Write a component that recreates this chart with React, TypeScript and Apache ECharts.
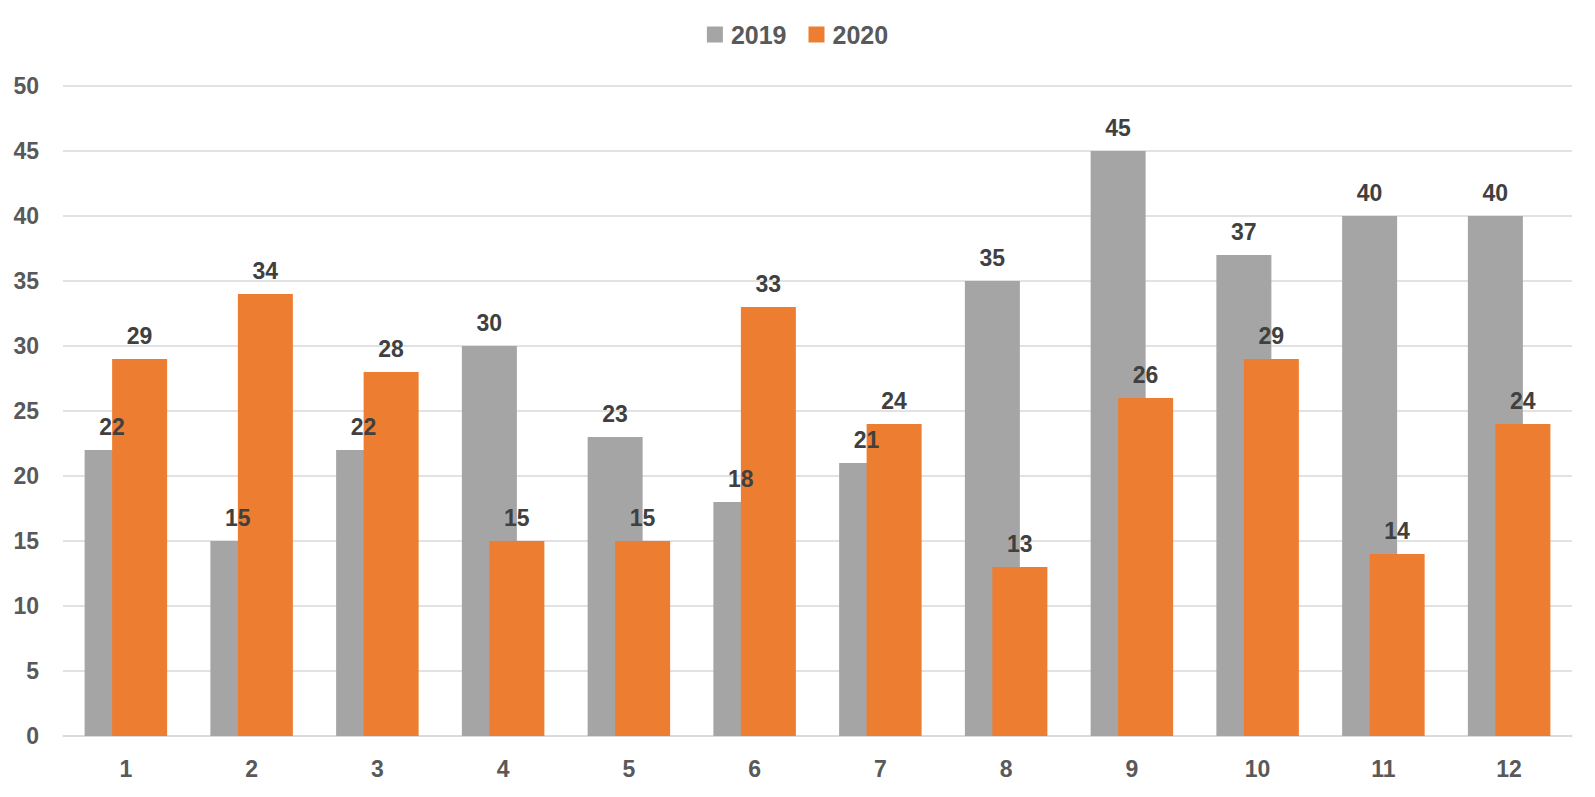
import React, { useEffect, useRef } from "react";
import * as echarts from "echarts";

const categories = ["1", "2", "3", "4", "5", "6", "7", "8", "9", "10", "11", "12"];
const values2019 = [22, 15, 22, 30, 23, 18, 21, 35, 45, 37, 40, 40];
const values2020 = [29, 34, 28, 15, 15, 33, 24, 13, 26, 29, 14, 24];
const seriesNames = ["2019", "2020"];

const FONT = "'Liberation Sans', Arial, sans-serif";

export default function App() {
  const ref = useRef<HTMLDivElement>(null);
  useEffect(() => {
    if (!ref.current) return;
    const chart = echarts.init(ref.current, null, { renderer: "svg" });
    const labelStyle = {
      show: true,
      position: "top" as const,
      distance: 12,
      color: "#404040",
      fontSize: 23,
      fontWeight: "bold" as const,
      fontFamily: FONT,
    };
    chart.setOption({
      animation: false,
      backgroundColor: "#ffffff",
      legend: {
        top: 17,
        left: "center",
        icon: "rect",
        itemWidth: 16,
        itemHeight: 16,
        itemGap: 22,
        data: seriesNames,
        textStyle: {
          color: "#595959",
          fontSize: 25,
          fontWeight: "bold",
          fontFamily: FONT,
          padding: [0, 0, 0, 3],
        },
      },
      grid: { left: 63, right: 23, top: 86, bottom: 61, containLabel: false },
      xAxis: {
        type: "category",
        data: categories,
        axisLine: { show: true, lineStyle: { color: "#D9D9D9", width: 1.5 } },
        axisTick: { show: false },
        axisLabel: {
          color: "#595959",
          fontSize: 23,
          fontWeight: "bold",
          fontFamily: FONT,
          margin: 21,
        },
      },
      yAxis: {
        type: "value",
        min: 0,
        max: 50,
        interval: 5,
        axisLine: { show: false },
        axisTick: { show: false },
        splitLine: { lineStyle: { color: "#D9D9D9", width: 1.5 } },
        axisLabel: {
          color: "#595959",
          fontSize: 23,
          fontWeight: "bold",
          fontFamily: FONT,
          margin: 24,
        },
      },
      series: [
        {
          name: seriesNames[0],
          type: "bar",
          data: values2019,
          barWidth: 55,
          barGap: "-50%",
          itemStyle: { color: "#A5A5A5" },
          label: labelStyle,
        },
        {
          name: seriesNames[1],
          type: "bar",
          data: values2020,
          barWidth: 55,
          barGap: "-50%",
          itemStyle: { color: "#ED7D31" },
          label: labelStyle,
        },
      ],
    });
    return () => chart.dispose();
  }, []);
  return (
    <div
      ref={ref}
      style={{ position: "absolute", left: 0, top: 0, width: 1595, height: 797 }}
    />
  );
}
